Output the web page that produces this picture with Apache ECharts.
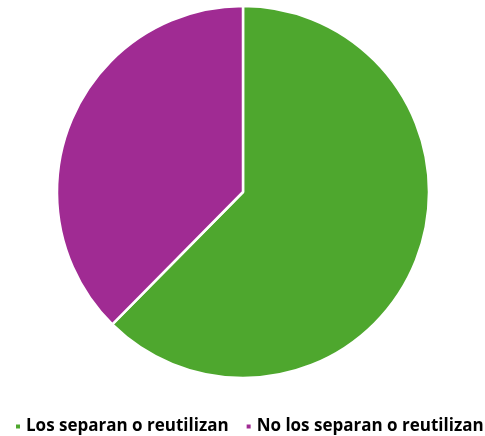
<!DOCTYPE html>
<html><head><meta charset="utf-8">
<script src="https://cdn.jsdelivr.net/npm/echarts@6/dist/echarts.min.js"></script>
<style>html,body{margin:0;padding:0;background:#fff}#c{width:485px;height:436px}</style>
</head><body><div id="c"></div>
<script>
const categories = ["Los separan o reutilizan", "No los separan o reutilizan"];
const values = [62.4, 37.6];
const colors = ["#4EA72E", "#A02B93"];
const chart = echarts.init(document.getElementById('c'));
chart.setOption({
  animation: false,
  color: colors,
  legend: {
    top: 418, left: 14, icon: 'rect', itemWidth: 6, itemHeight: 6, itemGap: 16, padding: 0,
    textStyle: { fontFamily: '"Open Sans", sans-serif', fontWeight: 'bold', fontSize: 17, color: '#000' },
    data: categories
  },
  series: [{
    type: 'pie', center: [243, 192], radius: 186, startAngle: 90, clockwise: true,
    label: { show: false }, labelLine: { show: false },
    itemStyle: { borderColor: '#fff', borderWidth: 2.5 },
    data: categories.map((n, i) => ({ name: n, value: values[i] }))
  }]
});
</script></body></html>
